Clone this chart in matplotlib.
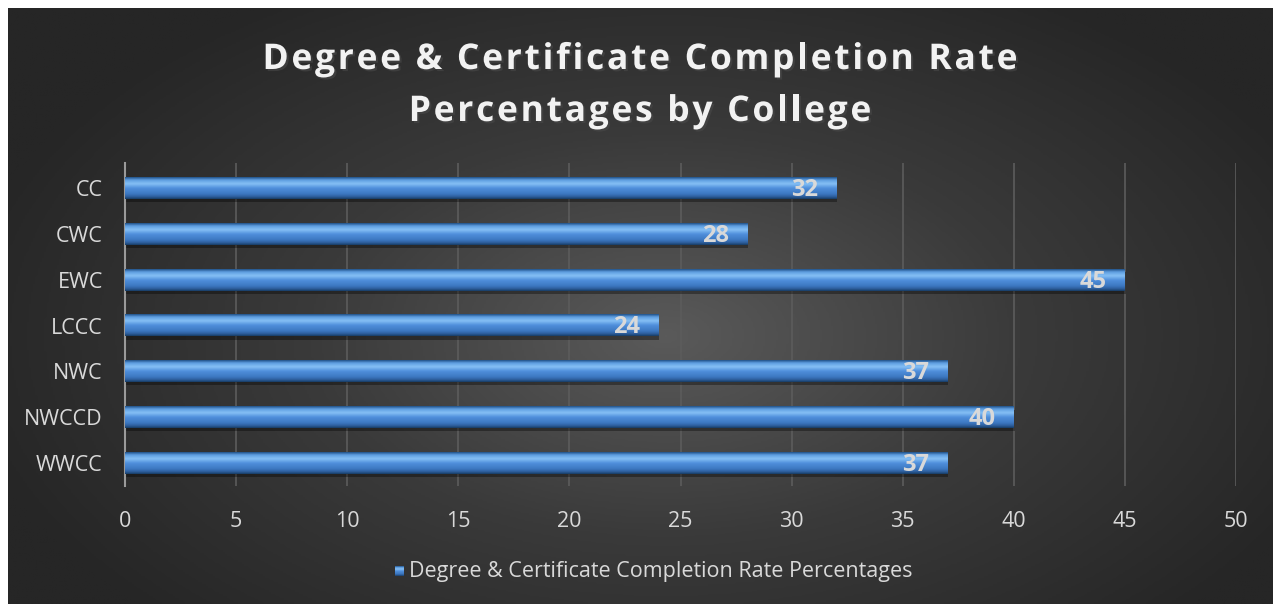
import numpy as np
import matplotlib.pyplot as plt
import matplotlib.patheffects as pe
from matplotlib.colors import LinearSegmentedColormap
from matplotlib.font_manager import FontProperties, findfont, get_font

colleges = ["CC", "CWC", "EWC", "LCCC", "NWC", "NWCCD", "WWCC"]
rates = [32, 28, 45, 24, 37, 40, 37]
x_ticks = [0, 5, 10, 15, 20, 25, 30, 35, 40, 45, 50]
title_lines = ["Degree & Certificate Completion Rate", "Percentages by College"]
series_name = "Degree & Certificate Completion Rate Percentages"

W, H = 1273, 604
txt = "#d9d9d9"
plt.rcParams["font.family"] = ["Open Sans", "DejaVu Sans"]

fig = plt.figure(figsize=(W / 100, H / 100), dpi=100, facecolor="white")

# dark radial background inside the white margin
bg = fig.add_axes([8 / W, 0, 1 - 8 / W, 1 - 8 / H], zorder=-5)
yy, xx = np.mgrid[0:1:300j, 0:1:600j]
r = np.sqrt(((xx - 0.52) / 0.75) ** 2 + ((yy - 0.55) / 0.9) ** 2)
shade = np.clip(1 - r / 0.75, 0, 1)
bg_cmap = LinearSegmentedColormap.from_list("bg", ["#262626", "#3a3a3a", "#5a5a5a"])
bg.imshow(shade, cmap=bg_cmap, aspect="auto", extent=[0, 1, 0, 1], vmin=0, vmax=1)
bg.axis("off")

ax = fig.add_axes([125 / W, 1 - 486 / H, (1236 - 125) / W, (486 - 163) / H])
ax.set_facecolor("none")
ax.set_xlim(0, 50)
ax.set_ylim(6.5, -0.55)

bar_cmap = LinearSegmentedColormap.from_list(
    "bar",
    [(0.0, "#1f4f85"), (0.12, "#5d9de0"), (0.3, "#86c0f5"), (0.5, "#4f8fdc"),
     (0.78, "#3c77c0"), (0.92, "#2a5a95"), (1.0, "#173a61")],
)
grad = np.linspace(0, 1, 64).reshape(-1, 1)
bh = 0.47
for i, (name, v) in enumerate(zip(colleges, rates)):
    # soft shadow under the bar
    ax.barh(i + 0.07, v, height=bh, left=0.05, color="black", alpha=0.35, zorder=2)
    ax.imshow(grad, cmap=bar_cmap, aspect="auto", zorder=3,
              extent=[0, v, i + bh / 2, i - bh / 2], interpolation="bicubic")
    ax.text(v - 0.8, i + 0.04, str(v), ha="right", va="center", color=txt,
            fontsize=17, fontweight="bold", zorder=4)

ax.set_xticks(x_ticks)
ax.set_yticks(range(len(colleges)))
ax.set_yticklabels(colleges)
ax.grid(axis="x", color="#5c5c5c", linewidth=1.2, zorder=0)
ax.set_axisbelow(True)
for s in ["top", "right", "bottom"]:
    ax.spines[s].set_visible(False)
ax.spines["left"].set_color("#9a9a9a")
ax.spines["left"].set_linewidth(1.5)
ax.tick_params(axis="both", length=0, colors=txt, labelsize=15.5)
ax.tick_params(axis="x", pad=18)
ax.tick_params(axis="y", pad=16)

# letter-spaced bold title, placed char by char
tsize = 25.5
prop = FontProperties(family="Open Sans", weight="bold", size=tsize)
font = get_font(findfont(prop))
font.set_size(tsize, 100)


def advances(s):
    return [font.load_char(ord(c)).linearHoriAdvance / 65536 for c in s]


adv0 = advances(title_lines[0])
spacing = (755 - sum(adv0)) / (len(title_lines[0]) - 1)
shadow = [pe.SimplePatchShadow(offset=(1.5, -1.5), alpha=0.6), pe.Normal()]
for line, yc in zip(title_lines, [60, 112]):
    adv = advances(line)
    total = sum(adv) + spacing * (len(line) - 1)
    x = 640 - total / 2
    for c, a in zip(line, adv):
        if c != " ":
            fig.text(x / W, 1 - yc / H, c, ha="left", va="center", color="#f2f2f2",
                     fontproperties=prop, path_effects=shadow)
        x += a + spacing

# legend
lg = fig.add_axes([0, 0, 1, 1], zorder=-1)
lg.set_xlim(0, W)
lg.set_ylim(H, 0)
lg.axis("off")
lg.imshow(grad, cmap=bar_cmap, aspect="auto", extent=[395, 404, 576, 566], zorder=2)
lg.text(409, 571, series_name, ha="left", va="center", color=txt, fontsize=15.5)

fig.savefig("out.png", dpi=100, facecolor="white")
